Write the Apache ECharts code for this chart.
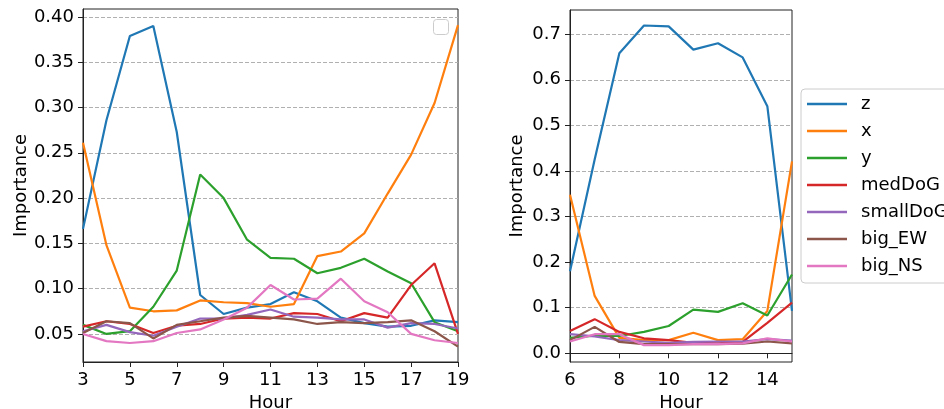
<!DOCTYPE html>
<html>
<head>
<meta charset="utf-8">
<script src="https://cdn.jsdelivr.net/npm/echarts@6/dist/echarts.min.js"></script>
<style>
  html, body { margin: 0; padding: 0; background: #fff; }
  #chart { width: 944px; height: 409px; }
</style>
</head>
<body>
<div id="chart"></div>
<script>
// Feature importance by hour, two periods
const seriesNames = ['z', 'x', 'y', 'medDoG', 'smallDoG', 'big_EW', 'big_NS'];
const colors = ['#1f77b4', '#ff7f0e', '#2ca02c', '#d62728', '#9467bd', '#8c564b', '#e377c2'];

// Left panel: hours 3..19
const hoursA = [3, 4, 5, 6, 7, 8, 9, 10, 11, 12, 13, 14, 15, 16, 17, 18, 19];
const zA        = [0.166, 0.286, 0.379, 0.390, 0.273, 0.093, 0.072, 0.079, 0.083, 0.096, 0.086, 0.068, 0.062, 0.058, 0.059, 0.065, 0.063];
const xA        = [0.261, 0.148, 0.079, 0.075, 0.076, 0.087, 0.085, 0.084, 0.080, 0.083, 0.136, 0.141, 0.161, 0.205, 0.248, 0.305, 0.391];
const yA        = [0.060, 0.050, 0.053, 0.080, 0.120, 0.226, 0.200, 0.154, 0.134, 0.133, 0.117, 0.123, 0.133, 0.119, 0.106, 0.063, 0.053];
const medDoGA   = [0.058, 0.064, 0.061, 0.051, 0.059, 0.061, 0.067, 0.068, 0.067, 0.073, 0.072, 0.064, 0.073, 0.068, 0.104, 0.128, 0.050];
const smallDoGA = [0.053, 0.060, 0.052, 0.048, 0.058, 0.067, 0.067, 0.071, 0.077, 0.069, 0.068, 0.066, 0.066, 0.057, 0.062, 0.061, 0.056];
const bigEWA    = [0.051, 0.064, 0.062, 0.045, 0.060, 0.064, 0.068, 0.070, 0.068, 0.066, 0.061, 0.063, 0.062, 0.063, 0.065, 0.053, 0.036];
const bigNSA    = [0.050, 0.042, 0.040, 0.042, 0.051, 0.055, 0.066, 0.079, 0.104, 0.088, 0.089, 0.111, 0.086, 0.074, 0.050, 0.043, 0.040];
const yTicksA   = [0.05, 0.10, 0.15, 0.20, 0.25, 0.30, 0.35, 0.40];

// Right panel: hours 6..15
const hoursB = [6, 7, 8, 9, 10, 11, 12, 13, 14, 15];
const zB        = [0.180, 0.425, 0.658, 0.719, 0.717, 0.666, 0.680, 0.649, 0.542, 0.093];
const xB        = [0.348, 0.126, 0.034, 0.029, 0.029, 0.045, 0.029, 0.031, 0.093, 0.421];
const yB        = [0.034, 0.039, 0.038, 0.047, 0.060, 0.096, 0.091, 0.110, 0.083, 0.173];
const medDoGB   = [0.049, 0.075, 0.047, 0.033, 0.029, 0.023, 0.022, 0.025, 0.067, 0.111];
const smallDoGB = [0.042, 0.037, 0.029, 0.026, 0.023, 0.025, 0.026, 0.026, 0.031, 0.028];
const bigEWB    = [0.029, 0.058, 0.025, 0.020, 0.020, 0.020, 0.020, 0.021, 0.026, 0.022];
const bigNSB    = [0.026, 0.042, 0.042, 0.018, 0.018, 0.020, 0.020, 0.022, 0.033, 0.026];
const yTicksB   = [0.0, 0.1, 0.2, 0.3, 0.4, 0.5, 0.6, 0.7];

const panelA = [zA, xA, yA, medDoGA, smallDoGA, bigEWA, bigNSA];
const panelB = [zB, xB, yB, medDoGB, smallDoGB, bigEWB, bigNSB];

const FONT = 'DejaVu Sans';
const FS = 18;
const axisColor = '#222';

function xAxisFor(gridIndex, hours) {
  return {
    type: 'category', gridIndex, data: hours.map(String), boundaryGap: false,
    name: 'Hour', nameLocation: 'middle', nameGap: 30,
    nameTextStyle: { fontFamily: FONT, fontSize: FS, color: '#000' },
    axisLine: { show: true, lineStyle: { color: axisColor, width: 1 } },
    axisTick: { show: true, inside: false, length: 5, interval: 1, lineStyle: { color: axisColor } },
    axisLabel: { interval: 1, margin: 9, fontFamily: FONT, fontSize: FS, color: '#000' },
    splitLine: { show: false }
  };
}

function yAxisFor(gridIndex, min, max, ticks, digits, nameGap) {
  return {
    type: 'value', gridIndex, min, max,
    name: 'Importance', nameLocation: 'middle', nameGap,
    nameTextStyle: { fontFamily: FONT, fontSize: FS, color: '#000' },
    axisLine: { show: true, lineStyle: { color: axisColor, width: 1 } },
    axisTick: { show: true, inside: false, length: 5, customValues: ticks, lineStyle: { color: axisColor } },
    axisLabel: { margin: 9, customValues: ticks, fontFamily: FONT, fontSize: FS, color: '#000',
                 formatter: v => v.toFixed(digits) },
    splitLine: { show: true, lineStyle: { color: '#b0b0b0', type: [4, 2], width: 1 } }
  };
}

const series = [];
[panelA, panelB].forEach((panel, gi) => {
  panel.forEach((vals, i) => {
    series.push({
      name: seriesNames[i], type: 'line', xAxisIndex: gi, yAxisIndex: gi,
      data: vals, symbol: 'none', smooth: false,
      lineStyle: { color: colors[i], width: 2.2 },
      itemStyle: { color: colors[i] },
      emphasis: { disabled: true }, animation: false
    });
  });
});

const gridBase = { show: true, borderColor: axisColor, borderWidth: 1, backgroundColor: 'transparent',
                   containLabel: false, outerBoundsMode: 'none' };

const chart = echarts.init(document.getElementById('chart'), null, { renderer: 'canvas' });
chart.setOption({
  animation: false,
  grid: [
    Object.assign({ left: 83, right: 486, top: 9, bottom: 47 }, gridBase),
    Object.assign({ left: 570, right: 152, top: 10, bottom: 47 }, gridBase)
  ],
  xAxis: [xAxisFor(0, hoursA), xAxisFor(1, hoursB)],
  yAxis: [
    yAxisFor(0, 0.019, 0.4088, yTicksA, 2, 53),
    yAxisFor(1, -0.019, 0.753, yTicksB, 1, 44)
  ],
  legend: {
    data: seriesNames, orient: 'vertical', left: 801, top: 89,
    icon: 'rect', itemWidth: 40, itemHeight: 2.5, itemGap: 7,
    padding: [5, 10, 7, 6],
    borderColor: '#cccccc', borderWidth: 1, borderRadius: 4,
    backgroundColor: 'rgba(255,255,255,0.8)',
    selectedMode: false,
    textStyle: { fontFamily: FONT, fontSize: FS, color: '#000', lineHeight: 20, padding: [0, 0, 0, 9] }
  },
  graphic: [
    { type: 'rect', left: 433, top: 19, shape: { width: 15, height: 15, r: 3 },
      style: { fill: 'rgba(255,255,255,0.8)', stroke: '#cccccc', lineWidth: 1 }, z: 10 }
  ],
  series
});
</script>
</body>
</html>
